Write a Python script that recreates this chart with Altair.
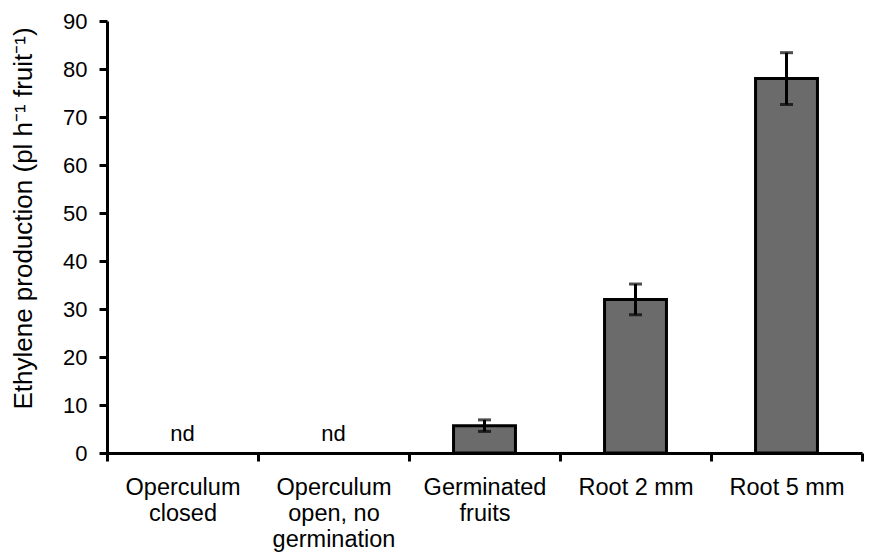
import altair as alt
import pandas as pd

categories = ["Operculum closed", "Operculum open, no germination",
              "Germinated fruits", "Root 2 mm", "Root 5 mm"]
label_lines = [["Operculum", "closed"], ["Operculum", "open, no", "germination"],
               ["Germinated", "fruits"], ["Root 2 mm"], ["Root 5 mm"]]
values = [None, None, 5.7, 32.0, 78.0]
errors = [None, None, 1.2, 3.2, 5.4]
nd_text = ["nd", "nd", "", "", ""]
y_ticks = [0, 10, 20, 30, 40, 50, 60, 70, 80, 90]
y_title = "Ethylene production (pl h\u207b\u00b9 fruit\u207b\u00b9)"

df = pd.DataFrame({"category": categories, "value": values, "err": errors, "nd": nd_text})
df["lo"] = df["value"] - df["err"]
df["hi"] = df["value"] + df["err"]

# multi-line category labels
def js_arr(lines):
    return "[" + ",".join("'" + s + "'" for s in lines) + "]"

expr = "datum.label"
for cat, lines in reversed(list(zip(categories, label_lines))):
    expr = f"datum.label == '{cat}' ? {js_arr(lines)} : ({expr})"

FONT = "Liberation Sans"

x_axis = alt.Axis(title=None, labelAngle=0, labelExpr=expr, tickBand="extent",
                  tickSize=8, tickWidth=3, domainWidth=3, labelFontSize=23.5,
                  labelPadding=14, labelLineHeight=26, labelOverlap=False,
                  labelLimit=400, labelBound=False)
x_enc = alt.X("category:N", sort=categories,
              scale=alt.Scale(paddingInner=0, paddingOuter=0), axis=x_axis)

y_axis = alt.Axis(values=y_ticks, title=y_title, tickSize=8, tickWidth=3,
                  domainWidth=3, labelFontSize=22, labelPadding=12,
                  titleFontSize=26, titleFontWeight="normal",
                  titleAngle=270, titleX=-84, titleY=197,
                  titleAlign="center", titleBaseline="middle")
y_scale = alt.Scale(domain=[0, 90], nice=False)

base = alt.Chart(df)
valid = base.transform_filter("isValid(datum.value)")

bars = valid.mark_bar(
    color="#6b6b6b", stroke="black", strokeWidth=3, width=alt.RelativeBandSize(0.41)
).encode(
    x=x_enc,
    y=alt.Y("value:Q", scale=y_scale, axis=y_axis),
)

err_rule = valid.mark_rule(color="black", strokeWidth=3).encode(
    x=x_enc,
    y=alt.Y("lo:Q", scale=y_scale, axis=y_axis),
    y2="hi:Q",
)

cap_lo = valid.mark_tick(color="black", size=13, thickness=3).encode(
    x=x_enc,
    y=alt.Y("lo:Q", scale=y_scale, axis=y_axis),
)

cap_hi = valid.mark_tick(color="black", size=13, thickness=3).encode(
    x=x_enc,
    y=alt.Y("hi:Q", scale=y_scale, axis=y_axis),
)

nd_labels = base.transform_filter("datum.nd != ''").mark_text(
    font=FONT, fontSize=22, baseline="alphabetic", dy=-12, color="black"
).encode(
    x=x_enc,
    y=alt.Y(datum=0, scale=y_scale, axis=y_axis),
    text="nd:N",
)

chart = alt.layer(bars, err_rule, cap_lo, cap_hi, nd_labels).properties(
    width=755, height=432,
    autosize=alt.AutoSizeParams(type="none"),
    padding={"left": 99, "top": 13, "right": 2, "bottom": 99},
).configure_view(stroke=None).configure_axis(
    grid=False, domainColor="black", tickColor="black", labelColor="black",
    titleColor="black", labelFont=FONT, titleFont=FONT,
)

chart.save("out.html", embed_options={"renderer": "svg", "actions": False})
